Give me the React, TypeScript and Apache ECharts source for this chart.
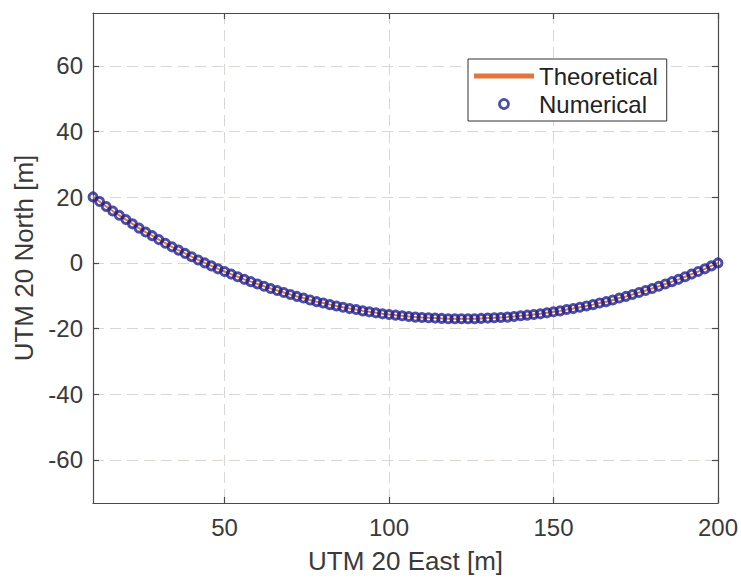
import React, { useEffect, useRef } from "react";
import * as echarts from "echarts";

const eastValues = [
  10, 12, 14, 16, 18, 20, 22, 24, 26, 28, 30, 32, 34, 36, 38, 40, 42, 44, 46, 48,
  50, 52, 54, 56, 58, 60, 62, 64, 66, 68, 70, 72, 74, 76, 78, 80, 82, 84, 86, 88,
  90, 92, 94, 96, 98, 100, 102, 104, 106, 108, 110, 112, 114, 116, 118, 120, 122, 124, 126, 128,
  130, 132, 134, 136, 138, 140, 142, 144, 146, 148, 150, 152, 154, 156, 158, 160, 162, 164, 166, 168,
  170, 172, 174, 176, 178, 180, 182, 184, 186, 188, 190, 192, 194, 196, 198, 200,
];

const northValues = [
  20.1, 18.7, 17.2, 15.8, 14.5, 13.2, 11.9, 10.6, 9.4, 8.3, 7.1, 6.0, 4.9, 3.9, 2.9, 1.9, 0.9, 0.0, -0.9, -1.8,
  -2.6, -3.4, -4.2, -5.0, -5.7, -6.4, -7.1, -7.8, -8.4, -9.0, -9.6, -10.2, -10.7, -11.3, -11.8, -12.2, -12.7, -13.1, -13.5, -13.9,
  -14.2, -14.6, -14.9, -15.2, -15.5, -15.7, -15.9, -16.1, -16.3, -16.5, -16.6, -16.7, -16.8, -16.9, -17.0, -17.0, -17.0, -17.0, -17.0, -16.9,
  -16.8, -16.7, -16.6, -16.5, -16.3, -16.1, -15.9, -15.7, -15.5, -15.2, -14.9, -14.6, -14.2, -13.9, -13.5, -13.1, -12.7, -12.2, -11.8, -11.3,
  -10.7, -10.2, -9.6, -9.0, -8.4, -7.8, -7.1, -6.4, -5.7, -5.0, -4.2, -3.4, -2.6, -1.8, -0.9, 0.0,
];

const xTicks = [50, 100, 150, 200];
const yTicks = [-60, -40, -20, 0, 20, 40, 60];
const seriesNames = ["Theoretical", "Numerical"];

const FONT = "'Liberation Sans', Arial, sans-serif";
const AXIS_COLOR = "#4a4a4a";
const TEXT_COLOR = "#3a3a3a";
const GRID_COLOR = "#dcd6d3";
const ORANGE = "#e0763a";
const BLUE = "#22228e";

export default function App() {
  const ref = useRef<HTMLDivElement>(null);

  useEffect(() => {
    if (!ref.current) return;
    const chart = echarts.init(ref.current, undefined, { renderer: "svg" });
    const points = eastValues.map((x, i) => [x, northValues[i]]);

    const baseX = {
      type: "value",
      min: 10,
      max: 200,
      axisLine: { show: true, onZero: false, lineStyle: { color: AXIS_COLOR, width: 1.2 } },
      axisTick: { show: true, inside: true, length: 6, customValues: xTicks, lineStyle: { color: AXIS_COLOR, width: 1.2 } },
    };
    const baseY = {
      type: "value",
      min: -73.1,
      max: 76.1,
      axisLine: { show: true, onZero: false, lineStyle: { color: AXIS_COLOR, width: 1.2 } },
      axisTick: { show: true, inside: true, length: 6, customValues: yTicks, lineStyle: { color: AXIS_COLOR, width: 1.2 } },
    };

    chart.setOption({
      animation: false,
      backgroundColor: "#ffffff",
      textStyle: { fontFamily: FONT },
      grid: { left: 93, top: 13, right: 19, bottom: 72, containLabel: false },
      legend: {
        orient: "vertical",
        left: 468,
        top: 59,
        padding: [5, 9, 5, 6],
        itemGap: 4,
        itemWidth: 60,
        itemHeight: 9,
        backgroundColor: "#ffffff",
        borderColor: "#333333",
        borderWidth: 1,
        textStyle: { fontSize: 24, lineHeight: 24, color: "#222222", fontFamily: FONT },
        data: [
          { name: seriesNames[0], icon: "path://M0 0H60V5H0Z", itemStyle: { color: ORANGE, borderWidth: 0 } },
          {
            name: seriesNames[1],
            icon: "circle",
            itemStyle: { color: "transparent", borderColor: BLUE, borderWidth: 2.8 },
          },
        ],
      },
      xAxis: [
        {
          ...baseX,
          position: "bottom",
          name: "UTM 20 East [m]",
          nameLocation: "middle",
          nameGap: 45,
          nameTextStyle: { fontSize: 26, color: TEXT_COLOR, fontFamily: FONT },
          axisLabel: { show: true, customValues: xTicks, fontSize: 24, color: TEXT_COLOR, margin: 12, fontFamily: FONT },
          splitLine: { show: true, lineStyle: { color: GRID_COLOR, type: [11, 6], width: 1 } },
        },
        {
          ...baseX,
          position: "top",
          axisLabel: { show: false },
          splitLine: { show: false },
        },
      ],
      yAxis: [
        {
          ...baseY,
          position: "left",
          name: "UTM 20 North [m]",
          nameLocation: "middle",
          nameGap: 56,
          nameTextStyle: { fontSize: 26, color: TEXT_COLOR, fontFamily: FONT },
          axisLabel: { show: true, customValues: yTicks, fontSize: 24, color: TEXT_COLOR, margin: 10, fontFamily: FONT },
          splitLine: { show: true, lineStyle: { color: GRID_COLOR, type: [11, 6], width: 1 } },
        },
        {
          ...baseY,
          position: "right",
          axisLabel: { show: false },
          splitLine: { show: false },
        },
      ],
      series: [
        {
          name: seriesNames[0],
          type: "line",
          data: points,
          symbol: "none",
          showSymbol: false,
          lineStyle: { color: ORANGE, width: 2 },
          itemStyle: { color: ORANGE },
          z: 2,
        },
        {
          name: seriesNames[1],
          type: "scatter",
          data: points,
          symbol: "circle",
          symbolSize: 8,
          itemStyle: { color: "transparent", borderColor: BLUE, borderWidth: 3 },
          z: 3,
        },
      ],
    });

    return () => chart.dispose();
  }, []);

  return <div ref={ref} style={{ width: 741, height: 579, position: "absolute", left: 0, top: 0 }} />;
}
